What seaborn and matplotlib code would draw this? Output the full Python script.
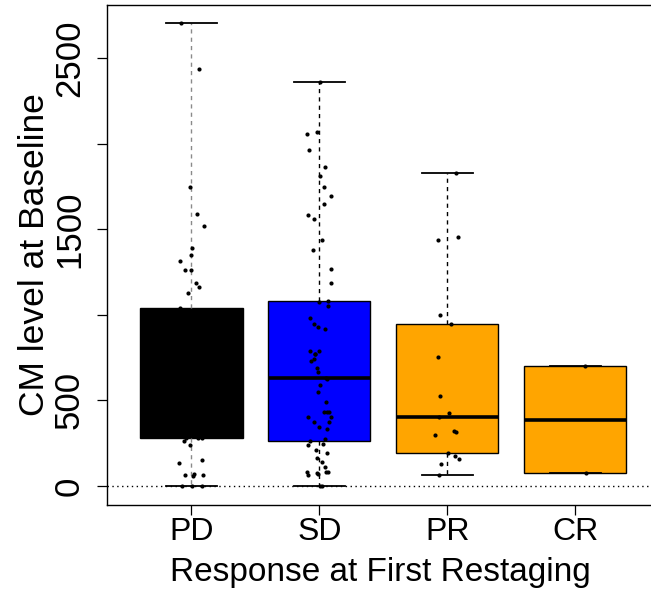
import numpy as np
import pandas as pd
import matplotlib
matplotlib.use("Agg")
import matplotlib as mpl
import matplotlib.pyplot as plt
import seaborn as sns

# ---------------- data ----------------
categories = ["PD", "SD", "PR", "CR"]
box_colors = ["#000000", "#0000FF", "#FFA500", "#FFA500"]

# PD: visible points above / below the black box, plus estimated points hidden inside it
pd_values = [2704, 2436, 1748, 1591, 1520, 1390, 1349, 1314, 1262, 1262, 1184, 1164, 1127, 1038,
             278, 278, 265, 239, 152, 132, 68, 64, 62, 60, 0, 0, 0,
             282, 300, 320, 345, 370, 395, 420, 440, 465, 490, 510, 540, 565, 590,
             620, 650, 680, 710, 740, 770, 800, 840, 880, 920, 960, 1000]
sd_values = [2362, 2068, 2054, 1964, 1863, 1809, 1746, 1694, 1649, 1581, 1561, 1437, 1379, 1266, 1184,
             1080, 1077,
             1051, 980, 944, 927, 919, 790, 790, 771, 771, 742, 730, 691, 668, 630, 623, 590, 549,
             491, 434, 432, 432, 401, 401, 376, 376, 346, 331, 272,
             263, 243, 239, 210, 195, 162, 142, 113, 84, 80, 80, 78, 72, 64, 0, 0]
pr_values = [1830, 1456, 1437, 999, 944, 755, 527, 425, 405, 321, 317, 300, 191, 177, 156, 127, 64]
cr_values = [699, 74]

y_ticks = [0, 500, 1000, 1500, 2000, 2500]
y_tick_labels = ["0", "500", "", "1500", "", "2500"]

x_label = "Response at First Restaging"
y_label = "CM level at Baseline"


# R-style (Tukey hinge) box statistics, as used by R's boxplot()
def fivenum(x):
    x = np.sort(np.asarray(x, dtype=float))
    n = len(x)
    n4 = np.floor((n + 3) / 2) / 2
    d = np.array([1, n4, (n + 1) / 2, n + 1 - n4, n]) - 1
    return 0.5 * (x[np.floor(d).astype(int)] + x[np.ceil(d).astype(int)])


_orig_stats = mpl.cbook.boxplot_stats


def tukey_boxplot_stats(X, *args, **kwargs):
    stats = _orig_stats(X, *args, **kwargs)
    arrays = [X] if np.ndim(np.asarray(X[0])) == 0 else X
    for s, arr in zip(stats, arrays):
        lo, q1, med, q3, hi = fivenum(arr)
        s.update(q1=q1, med=med, q3=q3, whislo=lo, whishi=hi)
    return stats


mpl.cbook.boxplot_stats = tukey_boxplot_stats

groups = [pd_values, sd_values, pr_values, cr_values]
df = pd.DataFrame({
    "Response": np.repeat(categories, [len(g) for g in groups]),
    "CM": np.concatenate([np.asarray(g, float) for g in groups]),
})

plt.rcParams["font.family"] = ["Liberation Sans", "DejaVu Sans"]
plt.rcParams["axes.edgecolor"] = "black"
plt.rcParams["axes.linewidth"] = 1.0

W, H = 651, 603
fig = plt.figure(figsize=(W / 100, H / 100), dpi=100)
ax = fig.add_axes([107 / W, (H - 504.5) / H, 552.5 / W, 499.5 / H])

ax.axhline(0, color="black", lw=1, linestyle=(0, (1, 2.5)), zorder=0.5)

sns.boxplot(data=df, x="Response", y="CM", hue="Response", order=categories,
            hue_order=categories, palette=dict(zip(categories, box_colors)),
            saturation=1, width=0.8, whis=(0, 100), linecolor="black", linewidth=1,
            legend=False, showfliers=False,
            whiskerprops=dict(linestyle=(0, (3, 3))),
            medianprops=dict(linewidth=2.6, solid_capstyle="butt"),
            capprops=dict(linewidth=1.3),
            ax=ax)

# PD whiskers were drawn in grey in the original
try:
    for w in ax.containers[0].whiskers:
        w.set_color("#8a8a8a")
except Exception:
    pass

np.random.seed(7)
sns.stripplot(data=df, x="Response", y="CM", order=categories, color="black",
              size=3, jitter=0.1, linewidth=0, zorder=3, ax=ax)

ax.set_xlim(-0.66, 3.66)
ax.set_ylim(-108, 2810)
ax.set_yticks(y_ticks, y_tick_labels)
ax.tick_params(axis="y", labelrotation=90, labelsize=25, length=7.2, width=0.9, pad=8)
for lbl in ax.get_yticklabels():
    lbl.set_va("center")
ax.tick_params(axis="x", labelsize=23, length=7.2, width=0.9, pad=1.5)

ax.set_xlabel(x_label, fontsize=24)
ax.set_ylabel(y_label, fontsize=25.5)
ax.xaxis.set_label_coords(0.495, -0.106)
ax.yaxis.set_label_coords(-0.102, 0.5)

for s in ax.spines.values():
    s.set_color("black")
    s.set_linewidth(1)

fig.savefig("out.png", dpi=100)
